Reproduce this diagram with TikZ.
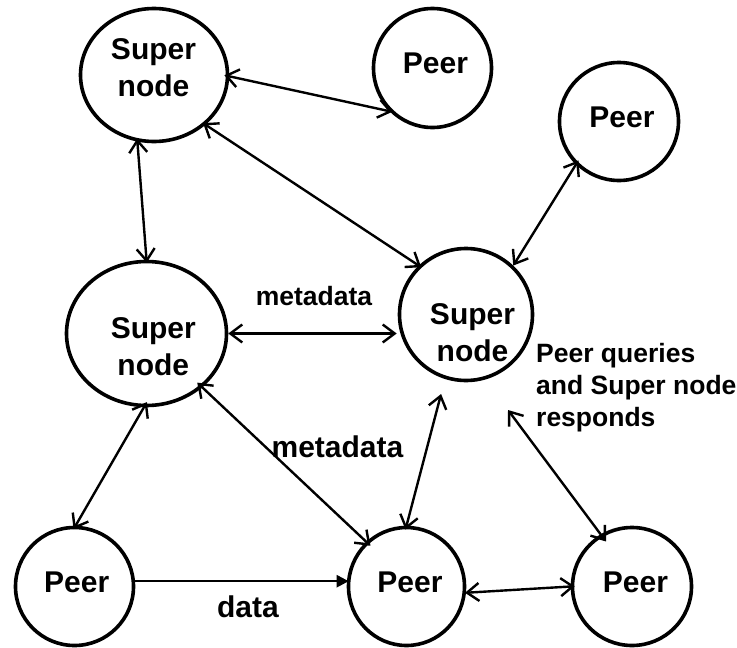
\documentclass[tikz,border=0pt]{standalone}
\usepackage{fontspec}
\setmainfont{Liberation Sans}
\usetikzlibrary{arrows.meta,shapes.geometric}
\begin{document}
\begin{tikzpicture}[x=1pt,y=-1pt,
  ring/.style={draw, ellipse, line width=3.6pt, inner sep=0pt},
  big/.style={font=\bfseries\fontsize{30}{37}\selectfont, inner sep=0pt},
  small/.style={font=\bfseries\fontsize{26.5}{31.7}\selectfont, inner sep=0pt},
  dbl/.style={line width=2.4pt, {Straight Barb[length=12pt,width=18pt]}-{Straight Barb[length=12pt,width=18pt]}, shorten <=-3pt, shorten >=-3pt},
  one/.style={line width=2.4pt, -{Triangle[length=12pt,width=12pt]}}]
\useasboundingbox (0,0) rectangle (737,648);
% circles
\node[ring, minimum width=147pt, minimum height=133pt] (tl) at (154,75) {};
\node[ring, minimum width=118pt, minimum height=119pt] (tp) at (432.5,68) {};
\node[ring, minimum width=119pt, minimum height=118pt] (rp) at (619,121.5) {};
\node[ring, minimum width=133pt, minimum height=132pt] (mid) at (466,314.5) {};
\node[ring, minimum width=160pt, minimum height=144pt] (ml) at (146.5,333.5) {};
\node[ring, minimum width=118pt, minimum height=118pt] (bl) at (74.5,586.5) {};
\node[ring, minimum width=116pt, minimum height=118pt] (bm) at (406.5,586.5) {};
\node[ring, minimum width=119pt, minimum height=118pt] (br) at (632,586.5) {};
% texts in circles
\node[big, align=center] (tlt) at (153.5,67.7) {Super\\node};
\node[big, anchor=base] (tpt) at (435.5,73) {Peer};
\node[big, anchor=base] (rpt) at (622,127) {Peer};
\node[big, align=center] (midt) at (472.5,332.7) {Super\\node};
\node[big, align=center] (mlt) at (153.3,347) {Super\\node};
\node[big, anchor=base] (blt) at (76.7,592) {Peer};
\node[big, anchor=base] (bmt) at (410,592) {Peer};
\node[big, anchor=base] (brt) at (635.5,592) {Peer};
% labels
\node[small, anchor=base] (m1) at (314,305) {metadata};
\node[big, anchor=base] (m2) at (337.5,457) {metadata};
\node[big, anchor=base] (dt) at (248,617) {data};
\node[small, align=left, anchor=north west] (pq) at (536,343.2) {Peer queries\\and Super node\\responds};
% connectors
\coordinate (q) at (508,410);
\draw[dbl, shorten <=-5pt] (tl.-1) -- (tp.225);
\draw[dbl] (tl.-44) -- (mid.134);
\draw[dbl] (tl.256) -- (ml.90);
\draw[dbl, shorten <=-5pt, shorten >=0pt] (rp.225) -- (mid.46);
\draw[dbl, shorten <=0pt, shorten >=1pt] (ml.east) -- (ml.east -| mid.west);
\draw[dbl, shorten <=-6pt, shorten >=-4pt] (ml.268) -- (bl.89);
\draw[dbl, shorten <=-7pt, shorten >=-6pt] (ml.316) -- (bm.132);
\draw[one, shorten >=-2pt] (bl.5) -- (bl.5 -| bm.west);
\draw[dbl, shorten <=15.5pt, shorten >=-4pt] (mid.252) -- (bm.90);
\draw[dbl, shorten <=0pt, shorten >=-9pt] (q) -- (br.121);
\draw[dbl, shorten <=-1pt, shorten >=-4pt] (bm.354) -- (br.180);
\end{tikzpicture}
\end{document}
